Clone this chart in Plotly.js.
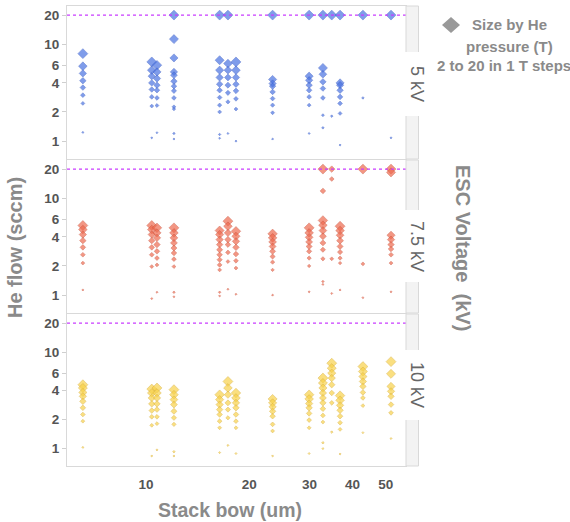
<!DOCTYPE html>
<html><head><meta charset="utf-8">
<script src="https://cdn.plot.ly/plotly-3.0.1.min.js"></script>
<style>html,body{margin:0;padding:0;background:#fff}</style>
</head><body><div id="chart" style="width:570px;height:522px"></div>
<script>
// Stack bow (um) of each wafer column
const stackBow = [6.55, 10.4, 10.77, 12.07, 16.4, 17.34, 18.3, 23.4, 29.9, 32.8, 34.8, 36.8, 42.9, 51.8];
const voltageLabels = ['5 kV', '7.5 kV', '10 kV'];
const flowTicks = [1, 2, 4, 6, 10, 20];
const bowTicks = [10, 20, 30, 40, 50];
const satFlow = 20;

// He flow (sccm) per wafer column, 5 kV
const flow5 = [
 [8.0, 5.94, 5.0, 4.2, 3.57, 2.98, 2.45, 1.23],
 [6.57, 5.4, 4.68, 3.99, 3.41, 2.86, 2.3, 1.08],
 [6.08, 5.18, 4.43, 3.78, 3.35, 2.79, 2.33, 1.22],
 [20, 11.3, 7.22, 5.18, 4.79, 4.15, 3.69, 3.30, 2.79, 2.26, 2.14, 1.20, 1.05],
 [20, 6.84, 5.4, 4.54, 3.87, 3.35, 2.82, 2.35, 2.0, 1.17, 1.07],
 [20, 6.32, 5.4, 4.54, 3.78, 3.15, 2.54, 1.20],
 [6.57, 5.4, 4.54, 3.87, 3.30, 2.73, 2.14, 1.0],
 [20, 4.33, 3.93, 3.69, 3.22, 2.75, 2.35, 1.96, 1.05],
 [20, 4.68, 4.25, 3.78, 3.35, 2.86, 2.35, 1.20],
 [20, 5.69, 4.9, 4.09, 3.49, 2.79, 1.85, 1.37],
 [20, 1.81],
 [20, 3.99, 3.78, 3.35, 2.86, 2.45, 1.93, 0.91],
 [20, 2.79],
 [20, 1.08]
];
// He pressure (T), 5 kV
const pres5 = [
 [20,17,14,12,10,8,6,2],
 [20,17,14,12,10,8,6,2],
 [19,16,14,12,10,8,6,2],
 [20,18,16,14,13,12,10,9,8,6,5,3,2],
 [20,18,16,14,12,10,8,7,6,3,2],
 [20,17,15,13,11,9,7,2],
 [20,17,14,12,10,8,6,2],
 [20,16,14,12,10,8,7,6,2],
 [20,16,14,12,10,8,6,2],
 [20,18,15,12,10,8,4,3],
 [20,3],
 [20,16,14,12,10,8,6,2],
 [20,3],
 [20,2]
];
// He flow (sccm), 7.5 kV
const flow75 = [
 [5.23, 4.75, 4.22, 3.65, 3.11, 2.61, 2.14, 1.13],
 [5.23, 4.75, 4.22, 3.65, 3.11, 2.61, 1.97, 0.92],
 [4.95, 4.39, 3.9, 3.32, 2.83, 2.41, 2.05, 1.07],
 [4.95, 4.39, 3.9, 3.46, 3.06, 2.72, 2.35, 1.97, 1.07, 0.96],
 [4.64, 4.22, 3.74, 3.32, 2.94, 2.61, 2.32, 2.05, 1.82, 1.07, 0.98],
 [5.8, 5.14, 4.39, 3.74, 3.32, 2.76, 2.22, 1.15],
 [4.56, 4.05, 3.59, 3.11, 2.65, 2.26, 1.9, 1.02],
 [4.29, 3.9, 3.54, 3.18, 2.83, 2.5, 2.19, 1.82, 1.0],
 [4.95, 4.39, 3.95, 3.54, 3.18, 2.83, 2.41, 2.0, 1.08],
 [20, 11.9, 5.9, 5.27, 4.64, 4.05, 3.46, 2.94, 2.37, 1.38, 1.29],
 [20, 15.8, 2.37, 1.04],
 [5.14, 4.64, 4.15, 3.65, 3.18, 2.78, 2.41, 2.14, 1.13],
 [20, 2.1, 0.94],
 [20, 18.5, 4.15, 3.74, 3.32, 2.99, 2.61, 2.14, 1.08]
];
const pres75 = [
 [20,17,14,12,10,8,6,2],
 [20,17,14,12,10,8,6,2],
 [19,16,14,12,10,8,6,2],
 [20,17,15,13,11,10,8,6,3,2],
 [18,16,14,12,11,10,9,8,6,3,2],
 [20,17,14,12,10,8,6,2],
 [19,16,14,12,10,8,6,2],
 [19,17,15,13,11,9,7,5,2],
 [20,17,15,13,11,9,7,5,2],
 [20,10,19,17,15,13,11,9,7,3,2],
 [12,8,6,2],
 [20,17,15,13,11,9,7,5,2],
 [20,6,2],
 [20,18,16,14,12,10,8,6,2]
];
// He flow (sccm), 10 kV
const flow10 = [
 [4.57, 4.23, 3.8, 3.46, 3.07, 2.63, 2.24, 1.91, 1.02],
 [4.12, 3.75, 3.33, 2.89, 2.46, 2.12, 1.73, 0.83],
 [4.23, 3.75, 3.33, 2.89, 2.52, 2.12, 1.8, 0.96],
 [4.06, 3.6, 3.2, 2.84, 2.42, 2.07, 1.77, 0.92, 0.83],
 [3.6, 3.2, 2.84, 2.52, 2.24, 1.91, 1.63, 0.9],
 [4.94, 4.23, 3.6, 2.96, 2.52, 2.07, 1.07],
 [3.75, 3.33, 2.96, 2.63, 2.24, 1.91, 1.63, 0.88],
 [3.25, 2.96, 2.69, 2.42, 2.15, 1.77, 1.51, 0.83],
 [3.6, 3.25, 2.91, 2.63, 2.3, 1.96, 1.63, 0.88],
 [5.36, 4.76, 4.23, 3.75, 3.33, 2.96, 2.57, 2.19, 1.87, 1.14, 0.99],
 [7.65, 6.79, 6.03, 5.36, 4.57, 3.75, 2.96, 1.47],
 [3.52, 3.15, 2.79, 2.48, 2.15, 1.84, 1.57, 0.87],
 [7.06, 6.27, 5.56, 4.94, 4.39, 3.8, 3.33, 2.77, 1.45],
 [7.94, 5.93, 4.39, 3.9, 3.46, 2.84, 2.33, 1.26]
];
const pres10 = [
 [20,18,16,14,12,10,8,6,2],
 [20,17,14,12,10,8,6,2],
 [20,17,14,12,10,8,6,2],
 [20,17,15,13,11,9,7,3,2],
 [19,16,14,12,10,8,6,2],
 [20,17,14,11,9,7,2],
 [19,17,14,12,10,8,6,2],
 [18,16,14,12,10,8,6,2],
 [19,17,14,12,10,8,6,2],
 [20,18,16,14,13,12,10,8,6,3,2],
 [20,18,16,14,12,10,8,3],
 [19,17,14,12,10,8,6,2],
 [20,18,16,14,12,10,8,6,2],
 [20,18,16,14,12,10,8,2]
];

// ---- layout geometry ----
const W = 570, H = 522, ML = 67, MR = 5, MT = 6, MB = 56;
const PW = W - ML - MR, PH = H - MT - MB;
const px2x = px => (px - ML) / PW;
const px2y = py => (H - MB - py) / PH;
const plotRight = 406, stripRight = 418.5;
const panels = [{top: 6, bot: 159}, {top: 160, bot: 313}, {top: 314, bot: 466}];
const labelBox = [{c: 84, h: 64}, {c: 246, h: 72}, {c: 385, h: 70}];

const fills = ['#4a73e2', '#ee6a4f', '#f8d24b'];
const edges = ['#2f54c2', '#c84a33', '#d5a72a'];
const flows = [flow5, flow75, flow10];
const press = [pres5, pres75, pres10];
const xa = ['x3', 'x2', 'x'];
const ya = ['y', 'y2', 'y3'];

const traces = [];
for (let k = 0; k < 3; k++) {
  const x = [], y = [], p = [];
  stackBow.forEach((b, i) => {
    flows[k][i].forEach((f, j) => { x.push(b); y.push(f); p.push(press[k][i][j]); });
  });
  traces.push({
    type: 'scatter', mode: 'markers', x: x, y: y, xaxis: xa[k], yaxis: ya[k],
    showlegend: false, hoverinfo: 'skip',
    marker: {symbol: 'diamond', size: p.map(v => 1.6 + (v - 2) / 3),
      color: fills[k], line: {color: edges[k], width: 0.6}}
  });
}

const tickFont = {family: 'Liberation Sans, Arial, sans-serif', size: 13.5, color: '#555', weight: 'bold'};
const xBase = {type: 'log', range: [0.77, 1.758], domain: [0, px2x(plotRight)],
  showgrid: false, zeroline: false, showline: true, mirror: true, linecolor: '#d9d9d9', linewidth: 1,
  ticks: '', ticklabelstandoff: 6, tickvals: bowTicks, ticktext: bowTicks.map(String), tickfont: tickFont};
const yBase = {type: 'log', range: [-0.185, 1.395],
  showgrid: false, zeroline: false, showline: true, mirror: true, linecolor: '#d9d9d9', linewidth: 1,
  ticks: 'outside', ticklen: 4, tickcolor: '#cfcfcf', tickvals: flowTicks, ticktext: flowTicks.map(String), tickfont: tickFont};

const dom = p => [px2y(p.bot), px2y(p.top)];
const layout = {
  width: W, height: H, margin: {l: ML, r: MR, t: MT, b: MB, pad: 0},
  paper_bgcolor: '#fff', plot_bgcolor: '#fff', showlegend: false,
  font: {family: 'Liberation Sans, Arial, sans-serif'},
  xaxis: Object.assign({}, xBase, {anchor: 'y3'}),
  xaxis2: Object.assign({}, xBase, {anchor: 'y2', matches: 'x', showticklabels: false}),
  xaxis3: Object.assign({}, xBase, {anchor: 'y', matches: 'x', showticklabels: false}),
  yaxis: Object.assign({}, yBase, {anchor: 'x3', domain: dom(panels[0])}),
  yaxis2: Object.assign({}, yBase, {anchor: 'x2', domain: dom(panels[1])}),
  yaxis3: Object.assign({}, yBase, {anchor: 'x', domain: dom(panels[2])}),
  shapes: [], annotations: []
};

const titleFont = {family: 'Liberation Sans, Arial, sans-serif', size: 20, color: '#8a8a8a', weight: 'bold'};
panels.forEach((p, k) => {
  // saturation reference line
  layout.shapes.push({type: 'line', xref: xa[k] + ' domain', yref: ya[k], x0: 0, x1: 1, y0: satFlow, y1: satFlow,
    line: {color: '#c93cff', width: 1.2, dash: 'dot'}, layer: 'above'});
  // facet strip
  layout.shapes.push({type: 'rect', xref: 'paper', yref: 'paper', x0: px2x(plotRight), x1: px2x(stripRight),
    y0: px2y(p.bot), y1: px2y(p.top), fillcolor: '#f3f3f3', line: {color: '#d9d9d9', width: 1}, layer: 'above'});
  const b = labelBox[k];
  layout.shapes.push({type: 'rect', xref: 'paper', yref: 'paper', x0: px2x(plotRight - 1), x1: px2x(stripRight + 2),
    y0: px2y(b.c + b.h / 2), y1: px2y(b.c - b.h / 2), fillcolor: '#ffffff', line: {width: 0}, layer: 'above'});
  layout.annotations.push({xref: 'paper', yref: 'paper', x: px2x(417), y: px2y(b.c), text: voltageLabels[k],
    textangle: 90, showarrow: false, xanchor: 'center', yanchor: 'middle',
    font: {family: 'Liberation Sans, Arial, sans-serif', size: 18, color: '#666'}});
});

// legend diamond
const cx = 451, cy = 25, hw = 9, hh = 8;
layout.shapes.push({type: 'path', xref: 'paper', yref: 'paper',
  path: `M ${px2x(cx - hw)},${px2y(cy)} L ${px2x(cx)},${px2y(cy - hh)} L ${px2x(cx + hw)},${px2y(cy)} L ${px2x(cx)},${px2y(cy + hh)} Z`,
  fillcolor: '#999', line: {width: 0}});
const legFont = {family: 'Liberation Sans, Arial, sans-serif', size: 15, color: '#8a8a8a', weight: 'bold'};
[['Size by He', 509, 25], ['pressure (T)', 509, 46], ['2 to 20 in 1 T steps', 504, 65]].forEach(t => {
  layout.annotations.push({xref: 'paper', yref: 'paper', x: px2x(t[1]), y: px2y(t[2]), text: t[0],
    showarrow: false, xanchor: 'center', yanchor: 'middle', font: legFont});
});

layout.annotations.push({xref: 'paper', yref: 'paper', x: px2x(230), y: px2y(510), text: 'Stack bow (um)',
  showarrow: false, xanchor: 'center', yanchor: 'middle', font: Object.assign({}, titleFont, {size: 19.5})});
layout.annotations.push({xref: 'paper', yref: 'paper', x: px2x(15), y: px2y(248), text: 'He flow (sccm)',
  textangle: -90, showarrow: false, xanchor: 'center', yanchor: 'middle', font: titleFont});
layout.annotations.push({xref: 'paper', yref: 'paper', x: px2x(463), y: px2y(248), text: 'ESC Voltage\u00a0 (kV)',
  textangle: 90, showarrow: false, xanchor: 'center', yanchor: 'middle', font: titleFont});

Plotly.newPlot('chart', traces, layout, {staticPlot: true, displayModeBar: false});
</script></body></html>
